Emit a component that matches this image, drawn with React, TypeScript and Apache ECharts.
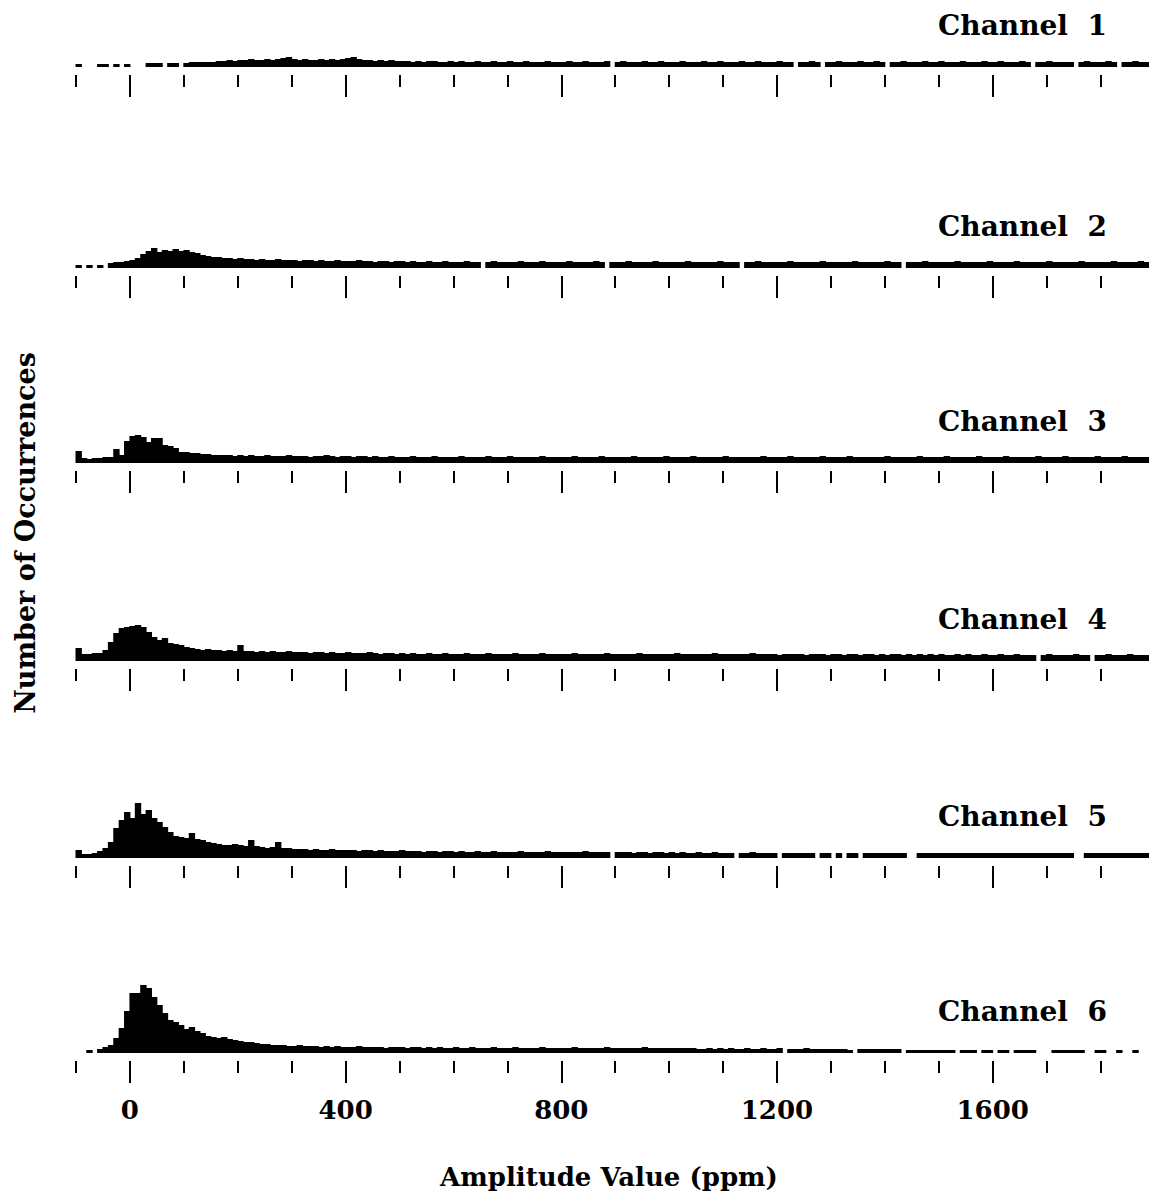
import React, { useEffect, useRef } from "react";
import * as echarts from "echarts";

// Histogram bins: 10 ppm wide, starting at -100 ppm
const BIN_START = -100;
const BIN_WIDTH = 10;

const channelNames = ["1", "2", "3", "4", "5", "6"];

// Heights of each bin (relative occurrence units)
const c1 = [
  3,0,0,0,3,3,0,3,0,3,
  0,0,0,4,4,4,0,4,4,0,
  4,5,5,5,5,5,6,6,7,6,
  7,7,8,7,7,8,7,8,9,10,
  8,7,8,7,7,8,7,8,7,8,
  9,10,8,7,7,6,7,6,7,6,
  6,6,5,6,5,6,6,5,5,6,
  5,6,5,5,6,5,5,6,5,5,
  6,5,5,6,5,5,5,6,5,5,
  5,6,5,5,6,5,5,5,6,0,
  5,6,5,5,5,6,5,5,6,5,
  5,5,6,5,5,5,6,5,5,6,
  5,5,5,6,5,5,6,5,5,5,
  6,5,5,0,5,5,6,5,0,5,
  5,6,5,5,5,6,5,5,6,5,
  0,5,5,6,5,5,5,6,5,5,
  6,5,5,5,6,5,5,5,6,5,
  5,6,5,5,5,6,5,0,5,5,
  6,5,5,5,5,0,5,6,5,5,
  5,6,5,0,5,5,6,5,5
];

const c2 = [
  3,0,3,0,3,0,5,6,6,7,
  8,10,14,17,20,16,18,17,19,17,
  18,16,15,13,12,11,11,10,10,9,
  10,9,9,8,9,8,8,9,8,8,
  8,7,8,8,7,8,7,7,8,7,
  7,7,8,7,7,6,7,7,6,7,
  7,6,7,6,6,7,6,6,7,6,
  6,6,7,6,6,0,6,7,6,6,
  6,6,7,6,6,6,7,6,6,6,
  6,7,6,6,6,6,7,6,0,6,
  6,6,7,6,6,6,6,7,6,6,
  6,6,6,7,6,6,6,6,6,7,
  6,6,6,0,6,6,7,6,6,6,
  6,6,7,6,6,6,6,6,7,6,
  6,6,6,6,7,6,6,6,6,6,
  7,6,6,0,6,6,6,7,6,6,
  6,6,6,7,6,6,6,6,6,7,
  6,6,6,6,7,6,6,6,6,6,
  7,6,6,6,6,6,7,6,6,6,
  6,6,7,6,6,6,6,7,6
];

const c3 = [
  12,5,4,5,5,6,6,14,8,22,
  27,28,26,21,25,25,18,17,15,11,
  11,10,10,9,9,8,8,8,8,7,
  8,7,8,7,7,8,7,7,7,8,
  7,7,7,6,7,7,8,7,6,7,
  7,6,7,7,6,7,6,6,7,6,
  6,6,7,6,6,6,7,6,6,6,
  6,7,6,6,6,6,7,6,6,6,
  7,6,6,6,6,6,7,6,6,6,
  6,6,7,6,6,6,6,7,6,6,
  6,6,6,7,6,6,6,6,6,7,
  6,6,6,6,7,6,6,6,6,6,
  7,6,6,6,6,6,6,7,6,6,
  6,6,7,6,6,6,6,6,7,6,
  6,6,6,7,6,6,6,6,6,6,
  7,6,6,6,6,6,7,6,6,6,
  6,7,6,6,6,6,6,7,6,6,
  6,6,7,6,6,6,6,6,7,6,
  6,6,6,7,6,6,6,6,6,7,
  6,6,6,6,7,6,6,6,6
];

const c4 = [
  13,7,7,8,8,11,19,28,33,34,
  35,36,34,29,24,21,23,18,17,16,
  14,13,12,11,12,11,11,10,11,10,
  16,10,10,9,10,9,10,9,9,10,
  9,9,9,8,9,9,8,9,8,8,
  9,8,8,8,9,8,7,8,8,7,
  8,7,8,7,7,8,7,7,8,7,
  7,7,8,7,7,7,8,7,7,7,
  7,8,7,7,7,7,8,7,7,7,
  7,7,8,7,7,7,7,7,8,7,
  7,7,7,7,8,7,7,7,7,7,
  7,8,7,7,7,7,7,7,8,7,
  7,7,7,7,7,8,7,7,7,7,
  6,7,7,7,7,6,7,7,7,6,
  7,7,6,7,7,6,7,7,6,7,
  6,7,7,6,7,6,7,6,7,6,
  7,6,6,7,6,7,6,6,7,6,
  6,7,6,6,7,6,6,6,0,6,
  7,6,6,6,6,7,6,6,0,6,
  6,7,6,6,6,7,6,6,6
];

const c5 = [
  8,4,4,5,7,10,16,30,38,46,
  40,55,44,48,40,36,31,26,22,21,
  20,25,19,18,16,15,14,13,13,14,
  13,12,18,12,11,10,11,16,10,10,
  9,9,9,8,9,8,8,9,8,8,
  8,8,7,8,8,7,8,7,7,7,
  8,7,7,7,6,7,7,6,7,7,
  6,7,6,6,7,6,6,7,6,6,
  6,6,7,6,6,6,6,7,6,6,
  6,6,6,6,7,6,6,6,6,0,
  6,6,6,5,6,6,5,6,6,5,
  6,5,6,5,5,6,5,5,6,5,
  5,5,0,5,5,6,5,5,5,5,
  0,5,5,5,5,5,5,0,5,5,
  0,5,0,5,5,0,5,5,5,5,
  5,5,5,5,0,0,5,5,5,5,
  5,5,5,5,5,5,5,5,5,5,
  5,5,5,5,5,5,5,5,5,5,
  5,5,5,5,5,0,0,5,5,5,
  5,5,5,5,5,5,5,5,5
];

const c6 = [
  0,0,3,0,4,6,8,15,25,42,
  60,60,68,65,56,48,40,33,31,28,
  24,26,22,20,17,16,15,16,14,13,
  12,11,11,10,9,9,8,8,8,7,
  7,8,7,7,7,6,7,6,7,6,
  6,6,7,6,6,6,6,5,6,6,
  6,5,6,6,5,6,5,6,5,5,
  6,5,5,6,5,5,5,6,5,5,
  5,6,5,5,5,5,6,5,5,5,
  5,5,6,5,5,5,5,5,6,5,
  5,5,5,5,5,6,5,5,5,5,
  5,5,5,5,5,4,4,5,4,5,
  4,5,4,4,5,4,4,5,4,4,
  5,0,4,4,4,5,4,4,4,4,
  4,4,4,3,0,4,4,4,4,4,
  4,4,4,0,3,3,3,3,3,3,
  3,3,3,0,3,3,3,0,3,3,
  0,3,3,0,3,3,3,3,0,0,
  0,3,3,3,3,3,3,0,0,3,
  3,0,0,3,0,0,3,0,0
];

const channelData = [c1, c2, c3, c4, c5, c6];

const minorTicks = [-100, 0, 100, 200, 300, 400, 500, 600, 700, 800, 900, 1000, 1100, 1200, 1300, 1400, 1500, 1600, 1700, 1800];
const majorTicks = [0, 400, 800, 1200, 1600];
const tickLabels = ["0", "400", "800", "1200", "1600"];

const xTitle = "Amplitude Value (ppm)";
const yTitle = "Number of Occurrences";

// layout
const X_MIN = -100;
const X_MAX = 1890;
const baselines = [67, 268, 463, 661, 858, 1053];
const panelHeights = [60, 90, 90, 90, 90, 90];
const TICK_GAP = 8;
const FONT = 'bold 26px "DejaVu Serif"';
const LABEL_FONT = 'bold 28px "DejaVu Serif"';

function binsOf(values: number[]) {
  const out: number[][] = [];
  values.forEach((v, i) => {
    if (v > 0) {
      const x0 = BIN_START + i * BIN_WIDTH;
      out.push([x0, x0 + BIN_WIDTH, v]);
    }
  });
  return out;
}

export default function App() {
  const ref = useRef<HTMLDivElement>(null);

  useEffect(() => {
    if (!ref.current) return;
    const chart = echarts.init(ref.current, null, { renderer: "svg" });

    const grids = baselines.map((b, k) => ({
      left: 76,
      width: 1074.6,
      top: b - panelHeights[k],
      height: panelHeights[k] + TICK_GAP,
    }));

    const xAxes: any[] = [];
    baselines.forEach((_, k) => {
      const isBottom = k === baselines.length - 1;
      xAxes.push({
        type: "value",
        gridIndex: k,
        min: X_MIN,
        max: X_MAX,
        position: "bottom",
        axisLine: { show: false, onZero: false },
        splitLine: { show: false },
        axisLabel: { show: false },
        axisTick: {
          show: true,
          customValues: minorTicks,
          length: 12,
          lineStyle: { color: "#000", width: 2 },
        },
      });
      xAxes.push({
        type: "value",
        gridIndex: k,
        min: X_MIN,
        max: X_MAX,
        position: "bottom",
        axisLine: { show: false, onZero: false },
        splitLine: { show: false },
        axisLabel: isBottom
          ? {
              show: true,
              customValues: majorTicks,
              formatter: (v: number) => tickLabels[majorTicks.indexOf(v)] ?? "",
              margin: 36,
              color: "#000",
              fontFamily: "DejaVu Serif",
              fontWeight: "bold",
              fontSize: 26,
              verticalAlign: "top",
            }
          : { show: false },
        axisTick: {
          show: true,
          customValues: majorTicks,
          length: 22,
          lineStyle: { color: "#000", width: 2 },
        },
      });
    });

    const yAxes = baselines.map((_, k) => ({
      type: "value",
      gridIndex: k,
      min: -TICK_GAP,
      max: panelHeights[k],
      show: false,
    }));

    const series = channelData.map((vals, k) => ({
      type: "custom",
      xAxisIndex: 2 * k,
      yAxisIndex: k,
      silent: true,
      clip: false,
      data: binsOf(vals),
      encode: { x: [0, 1], y: 2 },
      renderItem: (params: any, api: any) => {
        const x0 = api.value(0);
        const x1 = api.value(1);
        const v = api.value(2);
        const p0 = api.coord([x0, 0]);
        const p1 = api.coord([x1, v]);
        return {
          type: "rect",
          shape: {
            x: p0[0] - 0.5,
            y: p1[1],
            width: p1[0] - p0[0] + 1,
            height: p0[1] - p1[1],
          },
          style: { fill: "#000" },
        };
      },
    }));

    const graphics: any[] = [];
    baselines.forEach((b, k) => {
      graphics.push({
        type: "text",
        x: 938,
        y: b - 42,
        silent: true,
        style: {
          text: "Channel  " + channelNames[k],
          font: LABEL_FONT,
          fill: "#000",
          align: "left",
          verticalAlign: "middle",
        },
      });
    });
    graphics.push({
      type: "text",
      x: 609,
      y: 1177,
      silent: true,
      style: { text: xTitle, font: FONT, fill: "#000", align: "center", verticalAlign: "middle" },
    });
    graphics.push({
      type: "text",
      x: 25,
      y: 533,
      rotation: Math.PI / 2,
      silent: true,
      style: { text: yTitle, font: 'bold 27px "DejaVu Serif"', fill: "#000", align: "center", verticalAlign: "middle" },
    });

    chart.setOption({
      animation: false,
      backgroundColor: "#fff",
      grid: grids,
      xAxis: xAxes,
      yAxis: yAxes,
      series,
      graphic: graphics,
    });

    return () => chart.dispose();
  }, []);

  return (
    <div
      ref={ref}
      style={{ position: "absolute", left: 0, top: 0, width: 1149, height: 1196 }}
    />
  );
}
